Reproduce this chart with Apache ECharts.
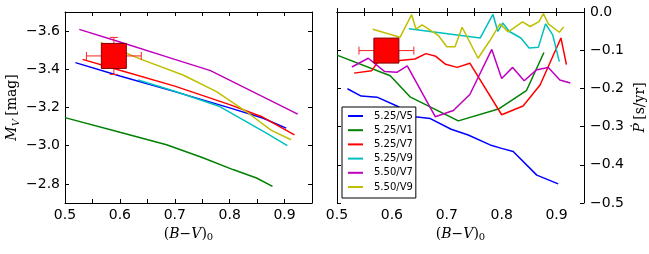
<!DOCTYPE html>
<html><head><meta charset="utf-8">
<script src="https://cdn.jsdelivr.net/npm/echarts@6/dist/echarts.min.js"></script>
<style>html,body{margin:0;padding:0;background:#fff}#c{width:649px;height:254px}</style>
</head><body><div id="c"></div>
<script>
// ---- data ----
const seriesNames = ['5.25/V5', '5.25/V1', '5.25/V7', '5.25/V9', '5.50/V7', '5.50/V9'];
const seriesColors = ['#0000ff', '#008000', '#ff0000', '#00bfbf', '#bf00bf', '#bfbf00'];

// left panel: (B-V)0 vs M_V
const mvV5_525 = [[0.519,-3.435],[0.60,-3.365],[0.70,-3.283],[0.80,-3.198],[0.86,-3.145],[0.903,-3.092]];
const mvV1_525 = [[0.50,-3.147],[0.60,-3.07],[0.685,-3.005],[0.75,-2.938],[0.806,-2.875],[0.849,-2.831],[0.878,-2.787]];
const mvV7_525 = [[0.532,-3.452],[0.60,-3.395],[0.70,-3.312],[0.80,-3.215],[0.86,-3.15],[0.918,-3.057]];
const mvV9_525 = [[0.633,-3.344],[0.70,-3.285],[0.782,-3.205],[0.867,-3.066],[0.905,-3.0]];
const mvV7_550 = [[0.526,-3.609],[0.60,-3.543],[0.70,-3.452],[0.765,-3.393],[0.85,-3.271],[0.924,-3.165]];
const mvV9_550 = [[0.565,-3.541],[0.612,-3.484],[0.639,-3.452],[0.715,-3.370],[0.776,-3.283],[0.830,-3.179],[0.876,-3.080],[0.912,-3.031]];

// right panel: (B-V)0 vs Pdot [s/yr]
const pV5_525 = [[0.519,-0.201],[0.544,-0.220],[0.573,-0.223],[0.609,-0.246],[0.642,-0.274],[0.670,-0.279],[0.708,-0.307],[0.739,-0.322],[0.779,-0.348],[0.800,-0.357],[0.821,-0.365],[0.864,-0.427],[0.903,-0.450]];
const pV1_525 = [[0.50,-0.113],[0.597,-0.167],[0.633,-0.222],[0.721,-0.285],[0.794,-0.254],[0.845,-0.206],[0.877,-0.106]];
const pV7_525 = [[0.531,-0.160],[0.563,-0.154],[0.575,-0.130],[0.614,-0.127],[0.642,-0.123],[0.662,-0.109],[0.680,-0.116],[0.698,-0.137],[0.719,-0.145],[0.742,-0.134],[0.800,-0.269],[0.839,-0.246],[0.870,-0.191],[0.908,-0.068],[0.918,-0.138]];
const pV9_525 = [[0.631,-0.044],[0.761,-0.068],[0.784,-0.006],[0.793,-0.051],[0.802,-0.029],[0.814,-0.051],[0.835,-0.068],[0.850,-0.094],[0.867,-0.092],[0.880,-0.031],[0.893,-0.060],[0.905,-0.130]];
const pV7_550 = [[0.527,-0.144],[0.557,-0.121],[0.587,-0.156],[0.609,-0.158],[0.628,-0.141],[0.679,-0.274],[0.712,-0.258],[0.742,-0.216],[0.782,-0.098],[0.800,-0.174],[0.820,-0.145],[0.841,-0.180],[0.864,-0.151],[0.885,-0.145],[0.906,-0.178],[0.925,-0.186]];
const pV9_550 = [[0.565,-0.045],[0.615,-0.066],[0.636,-0.007],[0.644,-0.045],[0.655,-0.034],[0.685,-0.062],[0.700,-0.091],[0.715,-0.091],[0.728,-0.040],[0.757,-0.121],[0.778,-0.076],[0.797,-0.031],[0.812,-0.052],[0.838,-0.026],[0.852,-0.038],[0.868,-0.025],[0.876,-0.004],[0.885,-0.031],[0.905,-0.053],[0.913,-0.039]];

// observed star: [x, y, xerr, yerr]
const starMv = [[0.589, -3.47, 0.05, 0.097]];
const starP = [[0.590, -0.101, 0.05, 0]];

const xTicks = [0.5, 0.6, 0.7, 0.8, 0.9];
const mvTicks = [-3.6, -3.4, -3.2, -3.0, -2.8];
const pTicks = [0.0, -0.1, -0.2, -0.3, -0.4, -0.5];

const leftData = [mvV5_525, mvV1_525, mvV7_525, mvV9_525, mvV7_550, mvV9_550];
const rightData = [pV5_525, pV1_525, pV7_525, pV9_525, pV7_550, pV9_550];

// ---- chart ----
const chart = echarts.init(document.getElementById('c'), null, {renderer: 'canvas'});
const tickFont = {fontFamily: 'DejaVu Sans', fontSize: 14, color: '#000'};
const fmt = v => (Math.abs(v) < 1e-9 ? '0.0' : v.toFixed(1).replace('-', '\u2212'));
const serif = 'DejaVu Serif';
const nameRich = {
  n: {fontFamily: serif, fontSize: 14, color: '#000'},
  i: {fontFamily: serif, fontSize: 14, fontStyle: 'italic', color: '#000'},
  s: {fontFamily: serif, fontSize: 10, color: '#000', padding: [7, 0, 0, 0]},
  si: {fontFamily: serif, fontSize: 10, fontStyle: 'italic', color: '#000', padding: [7, 0, 0, 0]}
};
const axLine = {show: true, lineStyle: {color: '#000', width: 1}};
const tick = {show: true, inside: true, length: 4, lineStyle: {color: '#000', width: 1}};

function xAxes(grid) {
  return [
    {gridIndex: grid, type: 'value', position: 'bottom', min: 0.5, max: 0.95, interval: 0.05,
      axisLine: axLine, axisTick: tick, splitLine: {show: false},
      axisLabel: Object.assign({margin: 5, customValues: xTicks, formatter: v => v.toFixed(1)}, tickFont),
      name: '{n|(}{i|B}{n|\u2212}{i|V}{n|)}{s|0}', nameLocation: 'middle', nameGap: 21,
      nameTextStyle: {rich: nameRich}},
    {gridIndex: grid, type: 'value', position: 'top', min: 0.5, max: 0.95, interval: 0.05,
      axisLine: axLine, axisTick: tick, splitLine: {show: false}, axisLabel: {show: false}}
  ];
}

const errSeries = (data, xi, yi) => ({
  type: 'custom', xAxisIndex: xi, yAxisIndex: yi, z: 3, silent: true, clip: false,
  data: data,
  renderItem: function (params, api) {
    const x = api.value(0), y = api.value(1), ex = api.value(2), ey = api.value(3);
    const st = {stroke: '#ff2020', lineWidth: 1};
    const l = api.coord([x - ex, y]), r = api.coord([x + ex, y]);
    const ch = [
      {type: 'line', shape: {x1: l[0], y1: l[1], x2: r[0], y2: r[1]}, style: st},
      {type: 'line', shape: {x1: l[0], y1: l[1] - 4, x2: l[0], y2: l[1] + 4}, style: st},
      {type: 'line', shape: {x1: r[0], y1: r[1] - 4, x2: r[0], y2: r[1] + 4}, style: st}
    ];
    if (ey > 0) {
      const t = api.coord([x, y - ey]), b = api.coord([x, y + ey]);
      ch.push({type: 'line', shape: {x1: t[0], y1: t[1], x2: b[0], y2: b[1]}, style: st});
      ch.push({type: 'line', shape: {x1: t[0] - 4, y1: t[1], x2: t[0] + 4, y2: t[1]}, style: st});
      ch.push({type: 'line', shape: {x1: b[0] - 4, y1: b[1], x2: b[0] + 4, y2: b[1]}, style: st});
    }
    return {type: 'group', children: ch};
  }
});

const series = [];
leftData.forEach((d, k) => series.push({
  name: seriesNames[k], type: 'line', xAxisIndex: 0, yAxisIndex: 0, data: d,
  showSymbol: false, symbol: 'none', color: seriesColors[k],
  lineStyle: {width: 1.5, color: seriesColors[k]}, z: 2
}));
rightData.forEach((d, k) => series.push({
  name: seriesNames[k], type: 'line', xAxisIndex: 2, yAxisIndex: 2, data: d,
  showSymbol: false, symbol: 'none', color: seriesColors[k],
  lineStyle: {width: 1.5, color: seriesColors[k]}, z: 2
}));
series.push(errSeries(starMv, 0, 0));
series.push(errSeries(starP, 2, 2));
series.push({type: 'scatter', xAxisIndex: 0, yAxisIndex: 0, data: starMv.map(p => [p[0], p[1]]),
  symbol: 'rect', symbolSize: 25, z: 4, silent: true,
  itemStyle: {color: '#ff0000', borderColor: '#800000', borderWidth: 1, opacity: 1}});
series.push({type: 'scatter', xAxisIndex: 2, yAxisIndex: 2, data: starP.map(p => [p[0], p[1]]),
  symbol: 'rect', symbolSize: 25, z: 4, silent: true,
  itemStyle: {color: '#ff0000', borderColor: '#800000', borderWidth: 1, opacity: 1}});

chart.setOption({
  animation: false,
  backgroundColor: '#fff',
  grid: [
    {left: 65, top: 12, width: 247, height: 191, show: false},
    {left: 337, top: 12, width: 247, height: 191, show: false}
  ],
  xAxis: xAxes(0).concat(xAxes(1)),
  yAxis: [
    {gridIndex: 0, type: 'value', position: 'left', inverse: true, min: -3.7, max: -2.7,
      axisLine: axLine, axisTick: Object.assign({customValues: mvTicks}, tick), splitLine: {show: false},
      axisLabel: Object.assign({margin: 5, customValues: mvTicks, formatter: fmt}, tickFont),
      name: '{i|M}{si|V} {n|[mag]}', nameLocation: 'middle', nameGap: 44, nameRotate: 90,
      nameTextStyle: {rich: nameRich}},
    {gridIndex: 0, type: 'value', position: 'right', inverse: true, min: -3.7, max: -2.7,
      axisLine: axLine, axisTick: Object.assign({customValues: mvTicks}, tick), splitLine: {show: false},
      axisLabel: {show: false}},
    {gridIndex: 1, type: 'value', position: 'right', min: -0.5, max: 0, interval: 0.1,
      axisLine: axLine, axisTick: tick, splitLine: {show: false},
      axisLabel: Object.assign({margin: 6, formatter: fmt}, tickFont),
      name: '{i|\u1E56} {n|[s/yr]}', nameLocation: 'middle', nameGap: 49, nameRotate: 90,
      nameTextStyle: {rich: nameRich}},
    {gridIndex: 1, type: 'value', position: 'left', min: -0.5, max: 0, interval: 0.1,
      axisLine: axLine, axisTick: tick, splitLine: {show: false}, axisLabel: {show: false}}
  ],
  legend: {
    data: seriesNames, orient: 'vertical', left: 342, top: 107,
    icon: 'rect', itemWidth: 15, itemHeight: 2, itemGap: 2.2,
    padding: [3, 3, 5, 6],
    backgroundColor: '#fff', borderColor: '#000', borderWidth: 1, borderRadius: 0,
    textStyle: {fontFamily: 'DejaVu Sans', fontSize: 10, color: '#000', lineHeight: 12, padding: [0, 0, 0, 6]},
    selectedMode: false
  },
  series: series
});
</script>
</body></html>
